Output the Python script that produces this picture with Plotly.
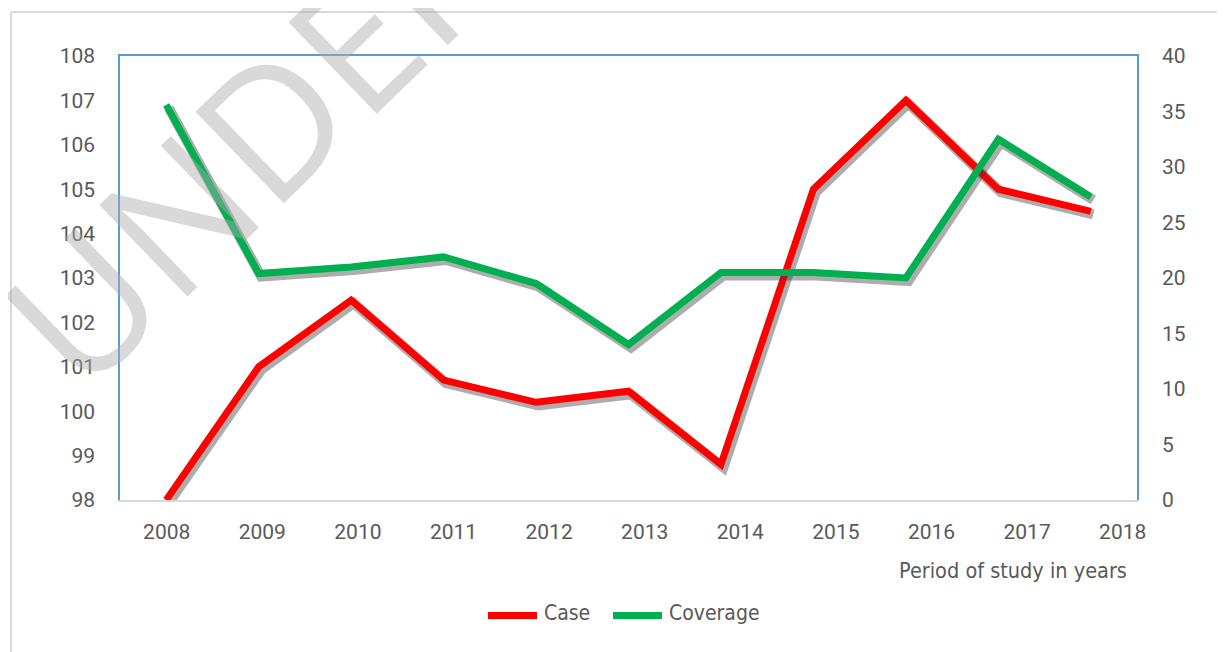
import plotly.graph_objects as go

years = [2008, 2009, 2010, 2011, 2012, 2013, 2014, 2015, 2016, 2017, 2018]
year_labels = [str(y) for y in years]
case_values = [98.0, 101.0, 102.5, 100.7, 100.2, 100.45, 98.8, 105.0, 107.0, 105.0, 104.5]
coverage_values = [35.6, 20.4, 21.0, 21.9, 19.5, 14.0, 20.5, 20.5, 20.0, 32.5, 27.3]

# page geometry (the browser page adds an 8px body margin)
PAGE_W, PAGE_H = 1225, 652
OFF = 8
L, R, T, B = 120, 1137, 56, 500          # plot area in page pixels
PW, PH = R - L, B - T

def px2x(px):
    return (px - L) / PW

def px2y(py):
    return (B - py) / PH

idx = list(range(len(years)))
RED = "#ff0000"
GREEN = "#00b050"
BLUE = "#5b9bd5"
GRID_GREY = "#d9d9d9"
TXT = "#595959"
TICKFONT = dict(family="Roboto, Open Sans, sans-serif", size=21, color=TXT)
NARROW = "Liberation Sans Narrow, Arial Narrow, DejaVu Sans Condensed, Roboto Condensed, sans-serif"

# shadow offsets (pixels converted through axis scales)
sx = 2.5 * (11.0 / PW)
sy_left = 3.0 * (10.0 / PH)
sy_right = 3.0 * (40.0 / PH)
SHADOW = "rgba(60,60,60,0.42)"

fig = go.Figure()

# dummy trace to carry the labelled x axis
fig.add_trace(go.Scatter(x=years, y=[None] * len(years), xaxis="x", yaxis="y",
                         mode="lines", showlegend=False, hoverinfo="skip"))

fig.add_trace(go.Scatter(x=[i + sx for i in idx], y=[v - sy_left for v in case_values],
                         xaxis="x2", yaxis="y", mode="lines",
                         line=dict(color=SHADOW, width=10), showlegend=False, hoverinfo="skip"))
fig.add_trace(go.Scatter(x=idx, y=case_values, xaxis="x2", yaxis="y", mode="lines",
                         name="Case", line=dict(color=RED, width=7), showlegend=False))
fig.add_trace(go.Scatter(x=[i + sx for i in idx], y=[v - sy_right for v in coverage_values],
                         xaxis="x2", yaxis="y2", mode="lines",
                         line=dict(color=SHADOW, width=10), showlegend=False, hoverinfo="skip"))
fig.add_trace(go.Scatter(x=idx, y=coverage_values, xaxis="x2", yaxis="y2", mode="lines",
                         name="Coverage", line=dict(color=GREEN, width=7), showlegend=False))

shapes = [
    # outer frame
    dict(type="line", xref="paper", yref="paper", x0=px2x(11), x1=px2x(11), y0=px2y(12), y1=px2y(670),
         line=dict(color=GRID_GREY, width=2)),
    dict(type="line", xref="paper", yref="paper", x0=px2x(11), x1=px2x(1240), y0=px2y(12), y1=px2y(12),
         line=dict(color=GRID_GREY, width=2)),
    # legend swatches
    dict(type="line", xref="paper", yref="paper", x0=px2x(488), x1=px2x(537), y0=px2y(615.5), y1=px2y(615.5),
         line=dict(color=RED, width=7)),
    dict(type="line", xref="paper", yref="paper", x0=px2x(613), x1=px2x(662), y0=px2y(615.5), y1=px2y(615.5),
         line=dict(color=GREEN, width=7)),
]

annotations = [
    dict(text="UNDER PEER REVIEW", xref="paper", yref="paper", x=px2x(658), y=px2y(-254),
         xanchor="center", yanchor="middle", textangle=-44, showarrow=False,
         font=dict(family="Open Sans, sans-serif", size=178, color="rgba(170,170,170,0.45)")),
    dict(text="Period of study in years", xref="paper", yref="paper", x=px2x(1129), y=px2y(570),
         xanchor="right", yanchor="middle", showarrow=False,
         font=dict(family=NARROW, size=21.5, color=TXT)),
    dict(text="Case", xref="paper", yref="paper", x=px2x(542), y=px2y(613),
         xanchor="left", yanchor="middle", showarrow=False,
         font=dict(family=NARROW, size=21, color=TXT)),
    dict(text="Coverage", xref="paper", yref="paper", x=px2x(667), y=px2y(613),
         xanchor="left", yanchor="middle", showarrow=False,
         font=dict(family=NARROW, size=21, color=TXT)),
]

fig.update_layout(
    width=PAGE_W - OFF, height=PAGE_H - OFF,
    margin=dict(l=L - OFF, r=PAGE_W - R, t=T - OFF, b=PAGE_H - B, pad=0),
    paper_bgcolor="white", plot_bgcolor="white",
    showlegend=False,
    xaxis=dict(range=[2008 - 46.7 / 95.6, 2008 + (R - 166.7) / 95.6],
               tickvals=years, ticktext=year_labels, tickfont=TICKFONT,
               showline=True, linecolor=GRID_GREY, linewidth=2,
               showgrid=False, zeroline=False, ticks="", ticklabelstandoff=12),
    xaxis2=dict(range=[-0.5, 10.5], overlaying="x", side="top", anchor="y",
                showline=True, linecolor=BLUE, linewidth=1.5,
                showticklabels=False, showgrid=False, zeroline=False, ticks=""),
    yaxis=dict(range=[98, 108], dtick=1, tickfont=TICKFONT,
               showline=True, linecolor=BLUE, linewidth=1.5,
               showgrid=False, zeroline=False, ticks="", ticklabelstandoff=19),
    yaxis2=dict(range=[0, 40], dtick=5, tickfont=TICKFONT, overlaying="y", side="right", anchor="x",
                showline=True, linecolor=BLUE, linewidth=1.5,
                showgrid=False, zeroline=False, ticks="", ticklabelstandoff=19),
    shapes=shapes,
    annotations=annotations,
)

fig.write_html("out.html")
